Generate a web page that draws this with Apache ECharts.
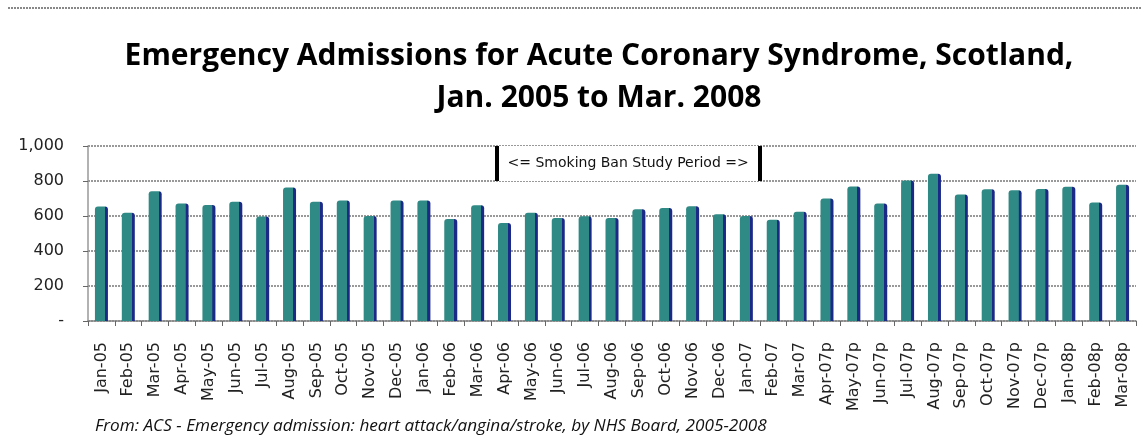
<!DOCTYPE html>
<html>
<head>
<meta charset="utf-8">
<title>Emergency Admissions for Acute Coronary Syndrome</title>
<script src="https://cdn.jsdelivr.net/npm/echarts@6/dist/echarts.min.js"></script>
<style>
  html, body { margin: 0; padding: 0; background: #fff; }
  #chart { width: 1141px; height: 441px; }
</style>
</head>
<body>
<div id="chart"></div>
<script>
  // months, Jan 2005 .. Mar 2008 (p = provisional)
  const months = [
    'Jan-05', 'Feb-05', 'Mar-05', 'Apr-05', 'May-05', 'Jun-05', 'Jul-05', 'Aug-05', 'Sep-05', 'Oct-05', 'Nov-05', 'Dec-05',
    'Jan-06', 'Feb-06', 'Mar-06', 'Apr-06', 'May-06', 'Jun-06', 'Jul-06', 'Aug-06', 'Sep-06', 'Oct-06', 'Nov-06', 'Dec-06',
    'Jan-07', 'Feb-07', 'Mar-07', 'Apr-07p', 'May-07p', 'Jun-07p', 'Jul-07p', 'Aug-07p', 'Sep-07p', 'Oct-07p', 'Nov-07p', 'Dec-07p',
    'Jan-08p', 'Feb-08p', 'Mar-08p'
  ];
  const admissions = [
    654, 618, 742, 671, 663, 681, 597, 763, 681, 688, 600, 688,
    688, 583, 662, 560, 618, 589, 598, 589, 639, 646, 656, 610,
    600, 579, 625, 700, 769, 671, 803, 841, 723, 753, 747, 755,
    767, 677, 778
  ];
  // study period edges, in category index units
  const banStart = 14.7;
  const banEnd = 24.5;

  const chart = echarts.init(document.getElementById('chart'));

  chart.setOption({
    animation: false,
    title: {
      text: 'Emergency Admissions for Acute Coronary Syndrome, Scotland,\nJan. 2005 to Mar. 2008',
      left: 594,
      top: 30,
      textAlign: 'center',
      textStyle: {
        fontFamily: 'Open Sans',
        fontWeight: 'bold',
        fontSize: 30,
        lineHeight: 42,
        color: '#000'
      }
    },
    graphic: [
      {
        type: 'line',
        shape: { x1: 8, y1: 8, x2: 1141, y2: 8 },
        style: { stroke: '#888', lineWidth: 2, lineDash: [2, 1] }
      },
      {
        type: 'text',
        left: 95,
        top: 418,
        style: {
          text: 'From: ACS - Emergency admission: heart attack/angina/stroke, by NHS Board, 2005-2008',
          font: 'italic 17.2px "Open Sans", sans-serif',
          fill: '#111'
        }
      }
    ],
    grid: {
      left: 88,
      right: 5,
      top: 146,
      bottom: 120
    },
    xAxis: [
      {
        type: 'category',
        data: months,
        axisLine: { lineStyle: { color: '#888', width: 1.5 } },
        axisTick: { show: true, length: 5, lineStyle: { color: '#666' } },
        axisLabel: {
          rotate: 90,
          interval: 0,
          margin: 21,
          fontSize: 16,
          fontFamily: 'DejaVu Sans',
          color: '#222'
        }
      },
      {
        type: 'value',
        min: -0.5,
        max: months.length - 0.5,
        show: false
      }
    ],
    yAxis: {
      type: 'value',
      min: 0,
      max: 1000,
      interval: 200,
      axisLine: { show: true, onZero: false, lineStyle: { color: '#999', width: 1.5 } },
      axisTick: { show: true, length: 5, lineStyle: { color: '#666' } },
      axisLabel: {
        margin: 24,
        fontSize: 16,
        fontFamily: 'DejaVu Sans',
        color: '#222',
        padding: [12, 0, 0, 0],
        formatter: v => (v === 0 ? '-' : v.toLocaleString('en-US'))
      },
      splitLine: { lineStyle: { color: '#999', width: 2, type: [2, 1] } }
    },
    series: [
      {
        type: 'bar',
        data: admissions,
        barWidth: 13,
        itemStyle: {
          color: {
            type: 'linear', x: 0, y: 0, x2: 1, y2: 0,
            colorStops: [
              { offset: 0, color: '#2f8984' },
              { offset: 0.76, color: '#2f8984' },
              { offset: 0.78, color: '#1b2a86' },
              { offset: 1, color: '#1b2a86' }
            ]
          },
          borderRadius: [3, 3, 0, 0]
        }
      },
      {
        type: 'line',
        xAxisIndex: 1,
        data: [],
        silent: true,
        markArea: {
          silent: true,
          itemStyle: { color: '#fff' },
          label: {
            show: true,
            position: 'inside',
            color: '#111',
            fontSize: 14,
            fontFamily: 'DejaVu Sans'
          },
          data: [[
            { coord: [banStart, 800], name: '<= Smoking Ban Study Period =>' },
            { coord: [banEnd, 1000] }
          ]]
        },
        markLine: {
          silent: true,
          symbol: 'none',
          label: { show: false },
          lineStyle: { color: '#000', width: 4, type: 'solid' },
          data: [
            [{ coord: [banStart, 800] }, { coord: [banStart, 1000] }],
            [{ coord: [banEnd, 800] }, { coord: [banEnd, 1000] }]
          ]
        }
      }
    ]
  });
</script>
</body>
</html>
